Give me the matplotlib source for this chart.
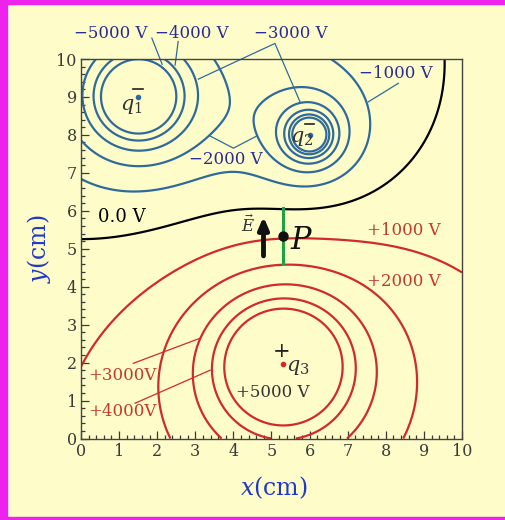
import numpy as np
import matplotlib
matplotlib.use("Agg")
import matplotlib.pyplot as plt
from matplotlib.patches import Rectangle

# charges (cm) and strength (V*cm), plus constant offset (V)
charge_x = [1.5, 6.0, 5.3]
charge_y = [9.0, 8.0, 1.95]
charge_q = [-5836, -2976, 8877]
v_offset = 476

neg_levels = [-5000, -4000, -3000, -2000, -1000]
q2_extra_level = [-6000]
zero_level = [0]
pos_levels = [1000, 2000, 3000, 4000, 5000]

P_x, P_y = 5.3, 5.34

plt.rcParams['mathtext.fontset'] = 'dejavuserif'
plt.rcParams['font.family'] = 'DejaVu Serif'

bg = '#fefdc9'
blue = '#2f6a9c'
blue_txt = '#2c2c96'
red = '#d02a2a'
red_txt = '#c4392c'
grey = '#3a3a3a'

fig = plt.figure(figsize=(5.06, 5.2), dpi=100, facecolor=bg)
# magenta frame
fig.patches.append(Rectangle((0, 0), 7/506, 1, transform=fig.transFigure, color='#ee22ee', zorder=0))
fig.patches.append(Rectangle((0, 1-4/520), 1, 4/520, transform=fig.transFigure, color='#ee22ee', zorder=0))
fig.patches.append(Rectangle((0, 0), 1, 3/520, transform=fig.transFigure, color='#ee22ee', zorder=0))

ax = fig.add_axes([81/506, 81.5/520, 381/506, 379.5/520])
ax.set_facecolor(bg)

g = np.linspace(0, 10, 700)
X, Y = np.meshgrid(g, g)
Z = np.zeros_like(X) + v_offset
for cx, cy, q in zip(charge_x, charge_y, charge_q):
    Z += q / np.maximum(np.hypot(X - cx, Y - cy), 1e-3)

ax.contour(X, Y, Z, levels=neg_levels, colors=blue, linewidths=1.6, linestyles='solid')
ax.contour(X, Y, np.where(X > 4, Z, np.nan), levels=q2_extra_level, colors=blue,
           linewidths=1.6, linestyles='solid')
ax.contour(X, Y, Z, levels=zero_level, colors='black', linewidths=1.6)
ax.contour(X, Y, Z, levels=pos_levels, colors=red, linewidths=1.6)

ax.set_xlim(0, 10)
ax.set_ylim(0, 10)
ax.set_xticks(range(11))
ax.set_yticks(range(11))
ax.set_xticks(np.arange(0, 10.01, 0.2), minor=True)
ax.set_yticks(np.arange(0, 10.01, 0.2), minor=True)
ax.tick_params(which='both', direction='in', colors=grey, top=False, right=False, width=0.9)
ax.tick_params(which='major', length=6, labelsize=11.5, pad=3)
ax.tick_params(which='minor', length=3)
for s in ax.spines.values():
    s.set_color('#444444')
    s.set_linewidth(1.0)

ax.text(5.05, -1.3, r'$x$(cm)', color='#2238c8', fontsize=17, ha='center', va='center')
ax.text(-1.1, 5.0, r'$y$(cm)', color='#2238c8', fontsize=17, ha='center', va='center', rotation=90)

# negative labels and leaders
kw = dict(color=blue_txt, fontsize=12, ha='center', va='center')
ax.text(0.79, 10.68, '\u22125000 V', **kw)
ax.text(2.91, 10.68, '\u22124000 V', **kw)
ax.text(5.5, 10.68, '\u22123000 V', **kw)
ax.text(8.27, 9.63, '\u22121000 V', **kw)
ax.text(3.8, 7.36, '\u22122000 V', **kw)
lk = dict(color=blue, lw=0.9, clip_on=False)
ax.plot([1.86, 2.13], [10.55, 9.86], **lk)
ax.plot([2.55, 2.47], [10.46, 9.84], **lk)
ax.plot([3.08, 5.09, 5.75], [9.47, 10.41, 8.87], **lk)
ax.plot([8.33, 7.54], [9.36, 8.87], **lk)
ax.plot([3.39, 4.0, 4.61], [7.97, 7.65, 7.97], **lk)

ax.text(1.08, 5.84, '0.0 V', color='black', fontsize=13, ha='center', va='center')

# positive labels and leaders
kw = dict(color=red_txt, fontsize=12, ha='center', va='center')
ax.text(8.48, 5.47, '+1000 V', **kw)
ax.text(8.48, 4.15, '+2000 V', **kw)
ax.text(1.08, 1.65, '+3000V', **kw)
ax.text(1.08, 0.72, '+4000V', **kw)
ax.text(5.03, 1.22, '+5000 V', color='#333333', fontsize=12, ha='center', va='center')
lk = dict(color=red, lw=0.9)
ax.plot([1.37, 3.12], [1.98, 2.64], **lk)
ax.plot([1.42, 3.39], [0.93, 1.8], **lk)

# charges
ax.plot(charge_x[:2], charge_y[:2], 'o', color=blue, ms=3)
ax.plot(charge_x[2], charge_y[2], 'o', color=red, ms=3)
ax.plot([1.37, 1.62], [9.22, 9.22], color='#222222', lw=1.2)
ax.plot([5.87, 6.12], [8.3, 8.3], color='#222222', lw=1.2)
ax.text(1.31, 8.75, r'$q_1$', color='#333333', fontsize=15, ha='center', va='center')
ax.text(5.8, 7.9, r'$q_2$', color='#333333', fontsize=15, ha='center', va='center')
ax.text(5.27, 2.28, '+', color='#222222', fontsize=15, ha='center', va='center')
ax.text(5.7, 1.88, r'$q_3$', color='#333333', fontsize=15, ha='center', va='center')

# field line segment, E arrow and point P
ax.plot([P_x, P_x], [4.62, 6.08], color='#1aa340', lw=2.2)
ax.annotate('', xy=(4.79, 5.92), xytext=(4.79, 4.74),
            arrowprops=dict(arrowstyle='-|>,head_length=0.7,head_width=0.3', color='#111111', lw=3.5))
ax.text(4.38, 5.62, r'$\vec{E}$', color='#333333', fontsize=12, ha='center', va='center')
ax.plot(P_x, P_y, 'o', color='#111111', ms=6.5, zorder=5)
ax.text(5.8, 5.22, r'$P$', color='#111111', fontsize=22, ha='center', va='center')

fig.savefig('out.png', dpi=100, facecolor=bg)
